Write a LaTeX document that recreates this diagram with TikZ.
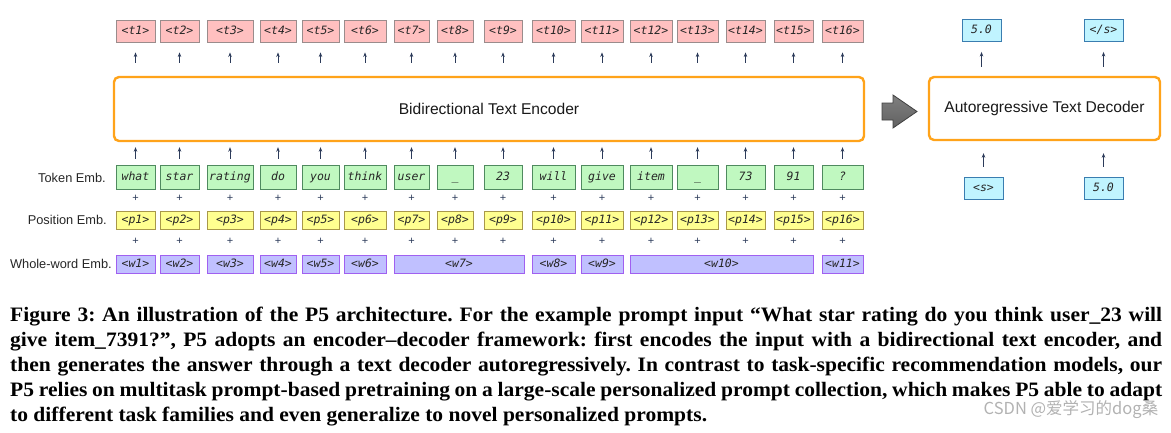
\documentclass[tikz,border=0pt]{standalone}
\usepackage{fontspec}
\setmainfont{Liberation Serif}[FakeStretch=1.05]
\setsansfont{Liberation Sans}
\newfontfamily\tokfont{DejaVu Sans Mono}
\newfontfamily\markfont{Noto Sans CJK SC}
\usetikzlibrary{arrows.meta}
\definecolor{outfill}{HTML}{FFC0C0}
\definecolor{outline}{HTML}{9A8C8C}
\definecolor{tokfill}{HTML}{C0F8C0}
\definecolor{tokline}{HTML}{4F8A5F}
\definecolor{posfill}{HTML}{FFFF90}
\definecolor{posline}{HTML}{A8984A}
\definecolor{wordfill}{HTML}{C0C0FF}
\definecolor{wordline}{HTML}{A060F0}
\definecolor{decfill}{HTML}{C0F4FF}
\definecolor{decline}{HTML}{3A7DB0}
\definecolor{coderline}{HTML}{FFA31A}
\definecolor{arrowc}{HTML}{2C3B5A}
\begin{document}
\begin{tikzpicture}[x=1pt,y=-1pt,
  box/.style={draw,line width=0.9pt,inner sep=0pt,text height=8.5pt,text depth=2.5pt,text=black!85,font=\tokfont\itshape\fontsize{11.5}{13}\selectfont},
  outbox/.style={box,draw=outline,fill=outfill,minimum height=22pt},
  tokbox/.style={box,draw=tokline,fill=tokfill,minimum height=24pt},
  posbox/.style={box,draw=posline,fill=posfill,minimum height=18pt},
  wordbox/.style={box,draw=wordline,fill=wordfill,minimum height=18pt},
  decbox/.style={box,draw=decline,fill=decfill,minimum height=22pt,minimum width=39pt},
  coder/.style={draw=coderline,line width=2.4pt,rounded corners=5pt,font=\sffamily\fontsize{15.6}{18}\selectfont,text=black!90},
  uparrow/.style={draw=arrowc,line width=0.8pt,-{Stealth[length=4.5pt,width=3.5pt]}},
  plus/.style={inner sep=0pt,text=arrowc,font=\sffamily\fontsize{11}{11}\selectfont},
  rowlabel/.style={anchor=east,inner sep=0pt,text=black!85,font=\sffamily\fontsize{12.8}{15}\selectfont},
  flowarrow/.style={draw=black!75,line width=0.8pt,top color=black!50,bottom color=black!62}]
\useasboundingbox (0,0) rectangle (1171,432);
\def\yt{31}
\def\yk{177}
\def\yp{220}
\def\yw{264}

% encoder and decoder
\node[coder,minimum width=750pt,minimum height=64pt] (enc) at (489,109) {Bidirectional Text Encoder};
\node[coder,minimum width=231pt,minimum height=63pt] (dec) at (1044.5,108.5) {Autoregressive Text Decoder};
\draw[flowarrow] (882,103) -- (893,103) -- (893,95) -- (917,111.5) -- (893,128) -- (893,120) -- (882,120) -- cycle;

% row labels
\node[rowlabel] (lk) at (106,178) {Token Emb.};
\node[rowlabel] (lp) at (107,220) {Position Emb.};
\node[rowlabel] (lw) at (112,264) {Whole-word Emb.};

% columns
\foreach \i/\cx/\w/\tok in {1/135.5/39/what,2/179.5/39/star,3/230/46/rating,4/278/36/do,
  5/320.5/37/you,6/365/42/think,7/411.5/35/user,8/455/36/\_,9/503/38/23,10/553.5/43/will,
  11/602/42/give,12/651/42/item,13/697.5/41/\_,14/745.5/39/73,15/793.5/39/91,16/842.5/41/?}{
  \node[outbox,minimum width=\w] (t\i) at (\cx,\yt) {<t\i>};
  \node[tokbox,minimum width=\w] (k\i) at (\cx,\yk) {\tok};
  \node[posbox,minimum width=\w] (p\i) at (\cx,\yp) {<p\i>};
  \node[plus] (a\i) at (\cx,198) {+};
  \node[plus] (b\i) at (\cx,241) {+};
  \draw[uparrow,shorten <=6pt,shorten >=5pt] (k\i.north) -- (k\i.north |- enc.south);
  \draw[uparrow,shorten <=13pt,shorten >=10pt] (t\i.south |- enc.north) -- (t\i.south);
}

% whole-word embeddings
\node[wordbox,minimum width=39] (w1) at (135.5,\yw) {<w1>};
\node[wordbox,minimum width=39] (w2) at (179.5,\yw) {<w2>};
\node[wordbox,minimum width=46] (w3) at (230,\yw) {<w3>};
\node[wordbox,minimum width=36] (w4) at (278,\yw) {<w4>};
\node[wordbox,minimum width=37] (w5) at (320.5,\yw) {<w5>};
\node[wordbox,minimum width=42] (w6) at (365,\yw) {<w6>};
\node[wordbox,minimum width=130] (w7) at (459,\yw) {<w7>};
\node[wordbox,minimum width=43] (w8) at (553.5,\yw) {<w8>};
\node[wordbox,minimum width=42] (w9) at (602,\yw) {<w9>};
\node[wordbox,minimum width=183] (w10) at (721.5,\yw) {<w10>};
\node[wordbox,minimum width=41] (w11) at (842.5,\yw) {<w11>};

% decoder side
\node[decbox] (o1) at (981.5,30.5) {5.0};
\node[decbox] (o2) at (1103.5,30.5) {</s>};
\node[decbox] (i1) at (983.5,188) {<s>};
\node[decbox] (i2) at (1103.5,188) {5.0};
\draw[uparrow,shorten <=10pt,shorten >=12pt] (i1.north) -- (i1.north |- dec.south);
\draw[uparrow,shorten <=10pt,shorten >=12pt] (i2.north) -- (i2.north |- dec.south);
\draw[uparrow,shorten <=9pt,shorten >=10pt] (o1.south |- dec.north) -- (o1.south);
\draw[uparrow,shorten <=9pt,shorten >=10pt] (o2.south |- dec.north) -- (o2.south);

% caption
\node[anchor=north west,inner sep=0pt,text width=1152pt,align=justify,font=\bfseries\fontsize{20.5}{25}\selectfont\frenchspacing] (caption) at (10,307)
{Figure 3: An illustration of the P5 architecture. For the example prompt input “What star rating do you think user\_23 will\linebreak
give item\_7391?”, P5 adopts an encoder–decoder framework: first encodes the input with a bidirectional text encoder, and\linebreak
then generates the answer through a text decoder autoregressively. In contrast to task-specific recommendation models, our\linebreak
P5 relies on multitask prompt-based pretraining on a large-scale personalized prompt collection, which makes P5 able to adapt\linebreak
to different task families and even generalize to novel personalized prompts.};
\node[text=black!30,inner sep=0pt,font=\markfont\fontsize{16.5}{16.5}\selectfont] (mark) at (1071,410) {CSDN @爱学习的dog桑};
\end{tikzpicture}
\end{document}
